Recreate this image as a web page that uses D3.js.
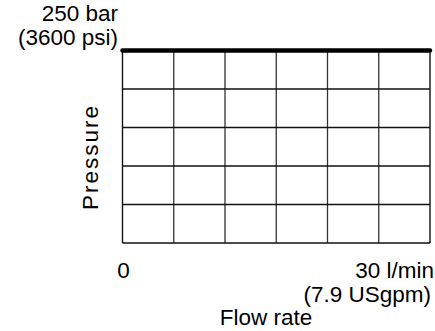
<!DOCTYPE html>
<html><head><meta charset="utf-8">
<script src="https://cdn.jsdelivr.net/npm/d3@7"></script>
<style>
html,body{margin:0;padding:0;background:#fff;}
text{font-family:"Liberation Sans",Arial,sans-serif;fill:#000;}
</style></head>
<body><svg id="c" width="435" height="331"></svg>
<script>
const flow = [0, 30];
const pressure = [250, 250];
const xGrid = [0, 5, 10, 15, 20, 25, 30];
const yGrid = [0, 50, 100, 150, 200, 250];
const yTopLabels = ["250 bar", "(3600 psi)"];
const xMinLabel = "0";
const xMaxLabels = ["30 l/min", "(7.9 USgpm)"];
const xTitle = "Flow rate";
const yTitle = "Pressure";

const svg = d3.select("#c");
const x = d3.scaleLinear().domain([0, 30]).range([122.5, 430]);
const y = d3.scaleLinear().domain([0, 250]).range([243, 50.5]);

svg.append("g").selectAll("line").data(xGrid).join("line")
  .attr("x1", d => x(d)).attr("x2", d => x(d))
  .attr("y1", y(250)).attr("y2", y(0))
  .attr("stroke", d => (d === 0 || d === 30) ? "#111" : "#333")
  .attr("stroke-width", d => (d === 0 || d === 30) ? 1.4 : 1.3);
svg.append("g").selectAll("line").data(yGrid).join("line")
  .attr("x1", x(0)).attr("x2", x(30))
  .attr("y1", d => y(d)).attr("y2", d => y(d))
  .attr("stroke", "#111").attr("stroke-width", 1.3);

svg.append("path")
  .datum(flow.map((f, i) => [f, pressure[i]]))
  .attr("d", d3.line().x(d => x(d[0])).y(d => y(d[1])))
  .attr("fill", "none").attr("stroke", "#000").attr("stroke-width", 4.5)
  .attr("stroke-linecap", "round");

const fs = "22.5px";
svg.append("text").text(yTopLabels[0]).attr("x", 118).attr("y", 21)
  .attr("text-anchor", "end").style("font-size", fs);
svg.append("text").text(yTopLabels[1]).attr("x", 118).attr("y", 45)
  .attr("text-anchor", "end").style("font-size", fs);
svg.append("text").text(xMinLabel).attr("x", x(0) + 1).attr("y", 278)
  .attr("text-anchor", "middle").style("font-size", fs);
svg.append("text").text(xMaxLabels[0]).attr("x", 434).attr("y", 278)
  .attr("text-anchor", "end").style("font-size", fs);
svg.append("text").text(xMaxLabels[1]).attr("x", 431).attr("y", 302)
  .attr("text-anchor", "end").style("font-size", fs);
svg.append("text").text(xTitle).attr("x", 266).attr("y", 325)
  .attr("text-anchor", "middle").style("font-size", fs);
svg.append("text").text(yTitle)
  .attr("transform", "translate(98,157) rotate(-90)")
  .attr("text-anchor", "middle").style("font-size", fs).style("letter-spacing", "2px");
</script></body></html>
